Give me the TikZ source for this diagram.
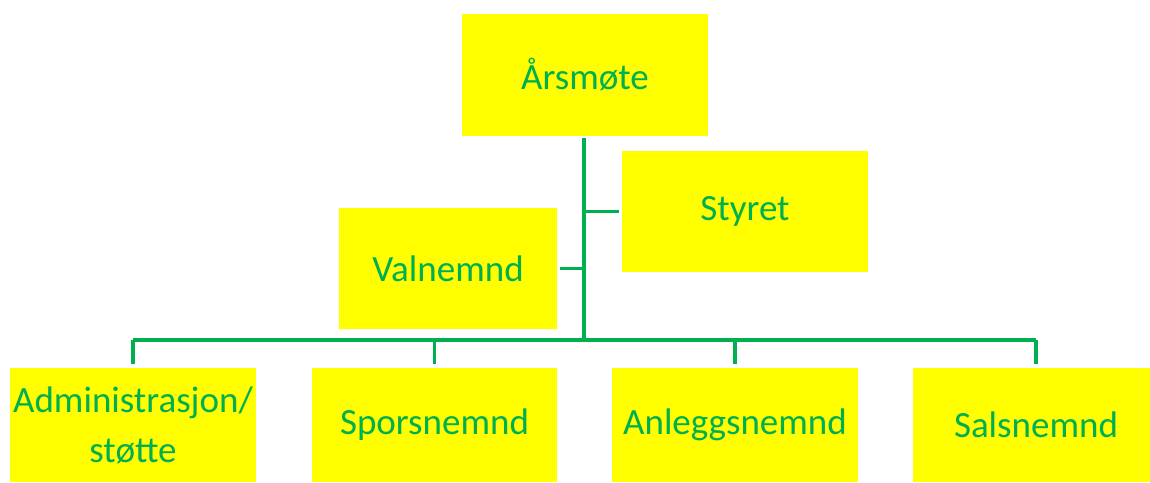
\documentclass[tikz,border=0pt]{standalone}
\usepackage{fontspec}
\setmainfont{Carlito}
\definecolor{orggreen}{RGB}{0,176,80}
\definecolor{orgyellow}{RGB}{255,255,0}
\begin{document}
\begin{tikzpicture}[x=1pt,y=1pt,
  box/.style={fill=orgyellow, draw=none, inner sep=0pt, text=orggreen,
    font=\fontsize{37}{50}\selectfont, align=center, anchor=center},
  conn/.style={draw=orggreen, line width=3.1pt}]
\useasboundingbox (0,0) rectangle (1150,482);
\clip (0,0) rectangle (1150,482);
\node[box, minimum width=246, minimum height=122] (ars) at (585,407) {Årsmøte};
\node[box, minimum width=246, minimum height=121] (styret) at (745,270.5) {Styret};
\node[box, minimum width=218, minimum height=121] (val) at (448,213.5) {Valnemnd};
\node[box, minimum width=246, minimum height=114] (admin) at (133,57) {Administrasjon/\\støtte};
\node[box, minimum width=245, minimum height=114] (spor) at (434.5,57) {Sporsnemnd};
\node[box, minimum width=246, minimum height=114] (anl) at (735,57) {Anleggsnemnd};
\node[box, minimum width=246, minimum height=114] (sals) at (1036,57) {Salsnemnd};
\coordinate (top) at (584,344);
\coordinate (hub) at (584,142);
\draw[conn] (top) -- (hub);
\draw[conn] (admin.north |- hub) -- (sals.north |- hub);
\foreach \n in {admin,spor,anl,sals}
  \draw[conn] (\n.north |- hub) -- ([yshift=4pt]\n.north);
\draw[conn] (styret.west -| top) -- ([xshift=-3pt]styret.west);
\draw[conn] ([xshift=3pt]val.east) -- (val.east -| top);
\end{tikzpicture}
\end{document}
